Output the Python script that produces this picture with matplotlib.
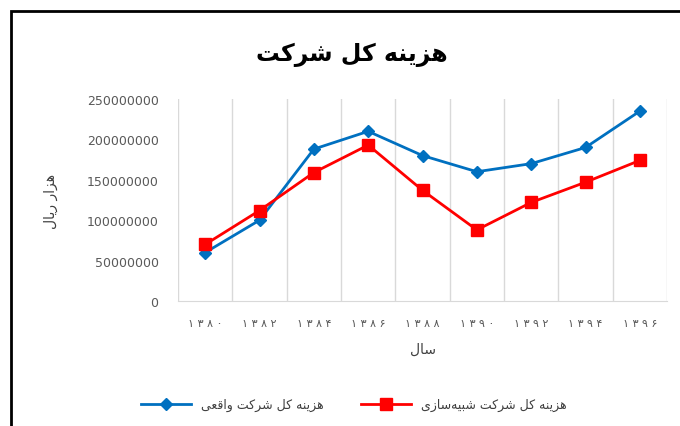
# import necessary libraries
import numpy as np
import matplotlib.pyplot as plt
from matplotlib.patches import Rectangle

# years on the x axis (persian digits) and both cost series
years = ["۱۳۸۰", "۱۳۸۲", "۱۳۸۴", "۱۳۸۶", "۱۳۸۸", "۱۳۹۰", "۱۳۹۲", "۱۳۹۴", "۱۳۹۶"]
actual = [60e6, 100e6, 188e6, 210e6, 180e6, 160e6, 170e6, 190e6, 235e6]
simulated = [70e6, 112e6, 159e6, 193e6, 137e6, 88e6, 122e6, 147e6, 174e6]
yticks = [0, 50000000, 100000000, 150000000, 200000000, 250000000]

title = "هزینه کل شرکت"
xlabel = "سال"
ylabel = "هزار ریال"
label_actual = "هزینه کل شرکت واقعی"
label_sim = "هزینه کل شرکت شبیه\u200cسازی"

# matplotlib does no arabic shaping, so pick the presentation forms by hand
# forms: isolated, final, initial, medial (None for letters that join only to the right)
forms = {
    "ا": ("\uFE8D", "\uFE8E", None, None),
    "ب": ("\uFE8F", "\uFE90", "\uFE91", "\uFE92"),
    "ت": ("\uFE95", "\uFE96", "\uFE97", "\uFE98"),
    "ر": ("\uFEAD", "\uFEAE", None, None),
    "ز": ("\uFEAF", "\uFEB0", None, None),
    "س": ("\uFEB1", "\uFEB2", "\uFEB3", "\uFEB4"),
    "ش": ("\uFEB5", "\uFEB6", "\uFEB7", "\uFEB8"),
    "ع": ("\uFEC9", "\uFECA", "\uFECB", "\uFECC"),
    "ق": ("\uFED5", "\uFED6", "\uFED7", "\uFED8"),
    "ل": ("\uFEDD", "\uFEDE", "\uFEDF", "\uFEE0"),
    "ن": ("\uFEE5", "\uFEE6", "\uFEE7", "\uFEE8"),
    "ه": ("\uFEE9", "\uFEEA", "\uFEEB", "\uFEEC"),
    "و": ("\uFEED", "\uFEEE", None, None),
    "ک": ("\uFB8E", "\uFB8F", "\uFB90", "\uFB91"),
    "ی": ("\uFBFC", "\uFBFD", "\uFBFE", "\uFBFF"),
}


def shape(text):
    out = []
    for i, c in enumerate(text):
        if c not in forms:
            if c != "\u200c":
                out.append(c)
            continue
        prev = text[i - 1] if i > 0 else ""
        nxt = text[i + 1] if i + 1 < len(text) else ""
        join_prev = prev in forms and forms[prev][2] is not None
        join_next = forms[c][2] is not None and nxt in forms
        if join_prev and join_next:
            out.append(forms[c][3])
        elif join_prev:
            out.append(forms[c][1])
        elif join_next:
            out.append(forms[c][2])
        else:
            out.append(forms[c][0])
    # right to left -> reverse for left to right drawing
    return "".join(out[::-1])


fig = plt.figure(figsize=(6.8, 4.27), dpi=100)
ax = fig.add_axes([0.2618, 0.2927, 0.7191, 0.4731])

x = np.arange(len(years))
ax.plot(x, actual, color="#0070C0", linewidth=2, marker="D", markersize=6,
        label=shape(label_actual))
ax.plot(x, simulated, color="#FF0000", linewidth=2, marker="s", markersize=9,
        label=shape(label_sim))

ax.set_xlim(-0.5, len(years) - 0.5)
ax.set_ylim(0, 250000000)
ax.set_yticks(yticks)
ax.set_yticklabels([str(v) for v in yticks])
ax.set_xticks(x)
# the digits are drawn spread out in the original
ax.set_xticklabels([" ".join(y) for y in years])
ax.set_xticks(np.arange(len(years) + 1) - 0.5, minor=True)
ax.grid(True, which="minor", axis="x", color="#d9d9d9", linewidth=1)
ax.tick_params(axis="both", which="both", length=0, colors="#595959")
ax.tick_params(axis="y", labelsize=9, pad=14)
ax.tick_params(axis="x", labelsize=8, pad=12)
for s in ["top", "right", "left"]:
    ax.spines[s].set_visible(False)
ax.spines["bottom"].set_color("#d9d9d9")

fig.text(352 / 680, 1 - 55 / 427, shape(title), fontsize=17, fontweight="bold",
         ha="center", va="center")
ax.set_xlabel(shape(xlabel), fontsize=10, color="#404040")
ax.xaxis.set_label_coords(0.5, -0.2)
ax.set_ylabel(shape(ylabel), fontsize=10, color="#404040")
ax.yaxis.set_label_coords(-0.245, 0.5)

fig.legend(loc="center", bbox_to_anchor=(0.52, 0.05), ncol=2, frameon=False,
           fontsize=9, handlelength=4, columnspacing=3, labelcolor="#404040")

# black chart border, runs off the right and bottom of the picture
fig.patches.append(Rectangle((11 / 680, -0.1), 1.2, 1.1 - 12 / 427,
                             transform=fig.transFigure, fill=False,
                             edgecolor="black", linewidth=2))

fig.savefig("out.png", dpi=100)
